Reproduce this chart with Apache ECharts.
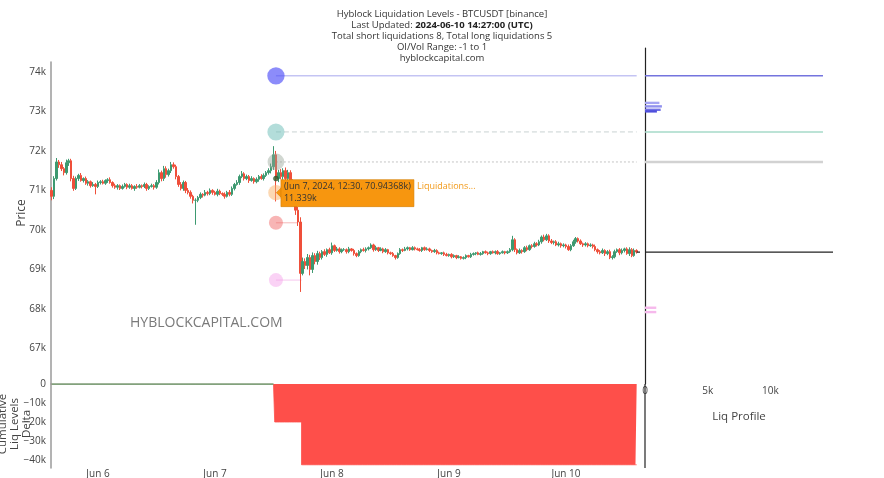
<!DOCTYPE html>
<html><head><meta charset="utf-8">
<script src="https://cdn.jsdelivr.net/npm/echarts@6/dist/echarts.min.js"></script>
<style>html,body{margin:0;padding:0;background:#fff}#c{width:884px;height:478px}</style>
</head><body><div id="c"></div>
<script>
// ---------- DATA (time = hours since 2024-06-06 00:00 UTC, prices in k USDT) ----------
const candleStart = -9.5;      // Jun 5 14:30
const candleStep = 0.5;        // 30-minute candles
const firstOpen = 71.0;
const closes = [
  70.85,71.30,71.72,71.65,71.55,71.45,71.70,71.75,71.30,71.05,
  71.30,71.38,71.25,71.30,71.18,71.22,71.12,71.15,71.10,71.20,
  71.22,71.18,71.25,71.27,71.20,71.12,71.08,71.12,71.05,71.10,
  71.15,71.08,71.12,71.05,71.10,71.08,71.12,71.10,71.15,71.05,
  71.10,71.12,71.08,71.20,71.45,71.30,71.55,71.40,71.50,71.65,
  71.60,71.35,71.15,71.05,71.20,71.00,70.95,70.85,70.75,70.75,
  70.82,70.90,70.88,70.95,70.92,71.00,70.95,70.90,70.98,70.92,
  70.90,70.85,70.95,70.90,71.05,71.15,71.20,71.35,71.42,71.30,
  71.35,71.25,71.30,71.22,71.28,71.35,71.30,71.38,71.45,71.50,
  71.60,71.90,71.30,71.45,71.35,71.50,71.30,71.45,71.20,71.00,
  70.50,70.20,68.90,69.20,69.10,69.30,69.00,69.35,69.20,69.40,
  69.30,69.45,69.38,69.50,69.42,69.60,69.48,69.52,69.45,69.50,
  69.50,69.45,69.52,69.48,69.40,69.35,69.45,69.50,69.48,69.52,
  69.55,69.62,69.50,69.55,69.48,69.52,69.45,69.50,69.42,69.40,
  69.35,69.30,69.40,69.50,69.48,69.52,69.55,69.50,69.55,69.52,
  69.50,69.48,69.55,69.50,69.52,69.48,69.45,69.48,69.42,69.40,
  69.42,69.38,69.35,69.38,69.32,69.35,69.30,69.32,69.28,69.30,
  69.35,69.32,69.38,69.40,69.42,69.38,69.40,69.45,69.42,69.40,
  69.45,69.42,69.45,69.40,69.42,69.45,69.42,69.45,69.50,69.75,
  69.50,69.42,69.48,69.45,69.55,69.50,69.60,69.58,69.65,69.62,
  69.70,69.82,69.75,69.85,69.72,69.68,69.70,69.62,69.65,69.60,
  69.62,69.58,69.50,69.60,69.70,69.78,69.72,69.65,69.62,69.65,
  69.60,69.62,69.58,69.50,69.45,69.42,69.48,69.40,69.45,69.30,
  69.32,69.45,69.50,69.42,69.48,69.52,69.40,69.50,69.35,69.48,
  69.44
];
// wick extension above / below the body, in units of 0.01k (10 USDT)
const wickUp = [
  8,6,9,5,7,4,8,6,5,7, 5,4,6,3,5,4,3,6,4,5, 4,5,3,4,6,3,5,4,3,5, 4,3,5,4,3,6,4,3,5,4,
  3,5,4,6,8,5,7,6,5,7, 6,5,4,6,5,4,6,5,4,5, 4,5,3,6,4,5,3,4,6,4, 3,5,4,6,5,4,6,5,7,4,
  5,4,6,3,5,4,6,5,4,6, 8,6,10,7,9,6,8,7,6,8, 10,8,12,10,8,9,7,8,6,7, 5,4,6,3,5,4,3,5,4,3,
  4,3,5,2,4,3,4,3,5,4, 3,4,3,5,2,4,3,4,2,3, 4,2,3,4,3,5,3,2,4,3, 3,4,2,3,4,3,2,4,3,3,
  2,3,4,2,3,3,2,4,2,3, 3,2,4,3,2,3,4,2,3,3, 2,3,3,4,2,3,2,3,4,5, 4,3,5,3,4,5,3,4,5,4,
  5,4,6,5,4,5,3,4,5,3, 4,3,5,4,5,4,3,4,3,4, 3,4,3,5,3,4,5,3,4,5, 4,5,3,4,5,3,4,6,4,5,
  3
];
const wickDn = [
  9,7,5,8,6,7,5,8,7,6, 4,6,3,5,4,6,5,3,5,4, 5,3,4,6,3,5,4,6,4,3, 3,5,4,3,6,4,3,5,4,6,
  4,3,6,4,5,7,6,8,5,6, 5,7,6,5,6,7,5,6,8,5, 5,4,6,3,5,4,6,3,5,4, 4,6,3,5,4,5,3,6,4,5,
  4,6,3,5,4,6,3,5,4,5, 7,8,6,9,7,8,6,9,8,10, 12,10,8,12,9,10,8,9,7,8, 6,5,4,6,3,5,4,3,5,4,
  3,5,4,3,5,4,3,4,3,5, 4,3,5,3,4,2,4,3,4,3, 3,4,3,3,4,2,4,3,2,4, 2,3,4,3,2,4,3,3,4,2,
  3,4,2,3,4,3,4,2,3,3, 4,2,3,3,4,2,3,3,2,4, 3,2,4,3,3,2,4,3,3,4, 6,4,3,5,3,4,3,5,3,4,
  3,5,4,3,5,4,5,3,4,5, 4,5,3,4,3,5,4,3,5,4, 4,3,5,4,5,4,3,6,4,3, 5,4,3,6,4,5,3,6,4,3,
  4
];
const wickHighs = {2:71.82, 7:71.80, 49:71.72, 91:72.12, 115:69.68, 189:69.85, 203:69.90, 215:69.82};
const wickLows  = {0:70.75, 18:70.90, 59:70.13, 92:70.72, 102:68.43, 103:68.85, 106:68.85, 141:69.25, 168:69.25, 229:69.26};

const liqTime = 36.5;  // Jun 7 12:30
const liqPrices = [73.90, 72.48, 71.72, 70.94368, 70.18, 68.73];
const liqSizes  = [14.2, 13.8, 13.2, 11.339, 9.3, 9.3];
const liqLevelEnds = [110.5, 110.5, 110.5, 41.0, 41.0, 41.8];

const profileLevelPrices = [73.90, 72.48, 71.72];
const profileLevelValues = [14.2, 14.2, 14.2];
const profileBarPrices = [73.215, 73.127, 73.04, 73.0, 68.03, 67.92];
const profileBarValues = [1.15, 1.35, 1.25, 0.95, 0.9, 0.9];

const liqEventTimes  = [36.5, 42.0];
const liqEventDeltas = [-20.0, -22.5];

const dayLabels = ['Jun 6','Jun 7','Jun 8','Jun 9','Jun 10'];
const titleLines = [
  'Hyblock Liquidation Levels - BTCUSDT [binance]',
  'Last Updated: ', '2024-06-10 14:27:00 (UTC)',
  'Total short liquidations 8, Total long liquidations 5',
  'OI/Vol Range: -1 to 1',
  'hyblockcapital.com'
];
const tipText = ['(Jun 7, 2024, 12:30, 70.94368k)', '11.339k', 'Liquidations...'];

// ---------- STYLES / LAYOUT ----------
const FONT = '"Open Sans", "Noto Sans", sans-serif';
const X_MIN = -9.64, X_MAX = 111.18;
const Y_MIN = 66.1, Y_MAX = 74.25;
const PX_PER_K = 322 / (Y_MAX - Y_MIN);
const Y_MAX_PROFILE = Y_MAX + 14 / PX_PER_K;
const UP = '#3d9970', DOWN = '#ef4f3a';
const bubbleColors = ['rgba(80,80,248,0.82)','rgba(110,190,185,0.65)','rgba(150,165,150,0.55)',
                      'rgba(250,180,110,0.65)','rgba(240,100,100,0.6)','rgba(245,160,235,0.6)'];
const levelLineStyles = [
  {stroke:'#a8a8ee', lineWidth:1, lineDash:null},
  {stroke:'#c9d2d2', lineWidth:1, lineDash:[5,3]},
  {stroke:'#c4c4c4', lineWidth:1, lineDash:[2,2]},
  {stroke:'#f7cfa5', lineWidth:1, lineDash:null},
  {stroke:'#f6b8b8', lineWidth:1, lineDash:null},
  {stroke:'#f6c6ee', lineWidth:1, lineDash:null}
];
const profileLineStyles = [
  {stroke:'#7474de', lineWidth:1.5},
  {stroke:'#a6dac8', lineWidth:1.5},
  {stroke:'#d2d2d2', lineWidth:2.5}
];
const profileBarColors = ['#a4a4f2','#9090ee','#7272e6','#4f4fdc','#f6b9ec','#f6b9ec'];
const DELTA_RED = '#fe4f4a';

// ---------- BUILD ----------
const times = closes.map((_, i) => candleStart + i * candleStep);
const candleData = closes.map((c, i) => {
  const o = i === 0 ? firstOpen : closes[i - 1];
  let hi = Math.max(o, c) + wickUp[i] / 100, lo = Math.min(o, c) - wickDn[i] / 100;
  if (wickHighs[i] != null) hi = wickHighs[i];
  if (wickLows[i] != null) lo = wickLows[i];
  return [times[i], o, c, lo, hi];
});
const lastPrice = closes[closes.length - 1];
const lastTime = times[times.length - 1];
const cumDelta = times.map(t => {
  let s = 0;
  liqEventTimes.forEach((et, k) => { if (t >= et) s += liqEventDeltas[k]; });
  return s;
});

const isInt = v => Math.abs(v - Math.round(v)) < 1e-6;
const axisLabelStyle = {fontFamily: FONT, fontSize: 10, color: '#444'};

const chart = echarts.init(document.getElementById('c'), null, {renderer: 'canvas'});

const option = {
  animation: false,
  backgroundColor: '#fff',
  title: {
    left: 'center', top: 4,
    text: titleLines[0] + '\n' + titleLines[1] + '{b|' + titleLines[2] + '}\n' + titleLines[3] + '\n' + titleLines[4] + '\n' + titleLines[5],
    textStyle: {fontFamily: FONT, fontSize: 9.5, fontWeight: 'normal', color: '#333', lineHeight: 11,
      rich: {b: {fontFamily: FONT, fontSize: 9.5, fontWeight: 'bold', color: '#222', lineHeight: 11}}}
  },
  grid: [
    {left: 51, top: 62, width: 589, height: 322, outerBoundsMode: 'none', containLabel: false},
    {left: 51, top: 384, width: 589, height: 84, outerBoundsMode: 'none', containLabel: false},
    {left: 645, top: 48, width: 188, height: 336, outerBoundsMode: 'none', containLabel: false}
  ],
  xAxis: [
    {gridIndex: 0, type: 'value', min: X_MIN, max: X_MAX, show: false, axisLine: {onZero: false}},
    {gridIndex: 1, type: 'value', min: X_MIN, max: X_MAX, minInterval: 24, maxInterval: 24,
      axisLine: {show: false, onZero: false}, axisTick: {show: false}, splitLine: {show: false},
      axisLabel: Object.assign({margin: 1, formatter: v => (isInt(v / 24) && v >= 0 && v / 24 < dayLabels.length) ? dayLabels[Math.round(v / 24)] : ''}, axisLabelStyle)},
    {gridIndex: 2, type: 'value', min: 0, max: 15, minInterval: 5, maxInterval: 5,
      axisLine: {show: false, onZero: false}, axisTick: {show: false}, splitLine: {show: false},
      name: 'Liq Profile', nameLocation: 'middle', nameGap: 27,
      nameTextStyle: {fontFamily: FONT, fontSize: 11.5, color: '#444'},
      axisLabel: Object.assign({margin: 2, formatter: v => v === 0 ? '0' : (v < 15 && isInt(v / 5) ? v + 'k' : '')}, axisLabelStyle)}
  ],
  yAxis: [
    {gridIndex: 0, type: 'value', min: Y_MIN, max: Y_MAX, minInterval: 1, maxInterval: 1,
      axisLine: {show: true, onZero: false, lineStyle: {color: '#9a9a9a', width: 1.5}}, axisTick: {show: false}, splitLine: {show: false},
      axisLabel: Object.assign({margin: 5, formatter: v => isInt(v) ? Math.round(v) + 'k' : ''}, axisLabelStyle)},
    {gridIndex: 1, type: 'value', min: -44.2, max: 0, splitNumber: 4,
      axisLine: {show: true, onZero: false, lineStyle: {color: '#9a9a9a', width: 1.5}}, axisTick: {show: false}, splitLine: {show: false},
      axisLabel: Object.assign({margin: 5, formatter: v => isInt(v / 10) ? (Math.round(v) === 0 ? '0' : '\u2212' + Math.abs(Math.round(v)) + 'k') : ''}, axisLabelStyle)},
    {gridIndex: 2, type: 'value', min: Y_MIN, max: Y_MAX_PROFILE,
      axisLine: {show: true, onZero: false, lineStyle: {color: '#222', width: 1.2}}, axisTick: {show: false}, axisLabel: {show: false}, splitLine: {show: false}}
  ],
  series: [
    {
      type: 'custom', xAxisIndex: 0, yAxisIndex: 0, z: 1,
      data: liqPrices.map((p, k) => [liqTime, liqLevelEnds[k], p, k]),
      encode: {x: [0, 1], y: 2},
      renderItem: (params, api) => {
        const k = api.value(3);
        const s = api.coord([api.value(0), api.value(2)]);
        const e = api.coord([api.value(1), api.value(2)]);
        return {type: 'line', shape: {x1: s[0], y1: s[1], x2: e[0], y2: e[1]}, style: Object.assign({fill: null}, levelLineStyles[k])};
      }
    },
    {
      type: 'candlestick', xAxisIndex: 0, yAxisIndex: 0, z: 2,
      data: candleData, encode: {x: 0, y: [1, 2, 3, 4]},
      barWidth: 2,
      itemStyle: {color: UP, color0: DOWN, borderColor: UP, borderColor0: DOWN, borderWidth: 1}
    },
    {
      type: 'scatter', xAxisIndex: 0, yAxisIndex: 0, z: 3,
      data: liqPrices.map((p, k) => ({value: [liqTime, p, liqSizes[k]], itemStyle: {color: bubbleColors[k]}})),
      symbolSize: v => 4.6 * Math.sqrt(v[2])
    },
    {
      type: 'scatter', xAxisIndex: 0, yAxisIndex: 0, z: 4,
      data: [[liqTime, closes[times.indexOf(liqTime)]]],
      symbolSize: 5, itemStyle: {color: '#2f5f30', borderColor: '#1d3d1d', borderWidth: 0.5}
    },
    {
      type: 'line', xAxisIndex: 0, yAxisIndex: 0, z: 3, symbol: 'none',
      data: [[lastTime, lastPrice], [X_MAX, lastPrice]],
      lineStyle: {color: '#222', width: 1.2}
    },
    {
      type: 'line', xAxisIndex: 1, yAxisIndex: 1, symbol: 'none', step: 'middle', z: 2,
      data: times.map((t, i) => [t, cumDelta[i]]),
      lineStyle: {color: DELTA_RED, width: 0.8},
      areaStyle: {color: DELTA_RED, opacity: 1}
    },
    {
      type: 'line', xAxisIndex: 1, yAxisIndex: 1, symbol: 'none', z: 3,
      data: times.map((t, i) => cumDelta[i] < 0 ? [t, null] : [t, cumDelta[i]]),
      connectNulls: false,
      lineStyle: {color: '#5a9a6a', width: 1.5}
    },
    {
      type: 'custom', xAxisIndex: 2, yAxisIndex: 2,
      data: profileLevelPrices.map((p, k) => [profileLevelValues[k], p, k]),
      encode: {x: 0, y: 1},
      renderItem: (params, api) => {
        const k = api.value(2);
        const s = api.coord([0, api.value(1)]);
        const e = api.coord([api.value(0), api.value(1)]);
        return {type: 'line', shape: {x1: s[0], y1: s[1], x2: e[0], y2: e[1]}, style: Object.assign({fill: null}, profileLineStyles[k])};
      }
    },
    {
      type: 'custom', xAxisIndex: 2, yAxisIndex: 2,
      data: profileBarPrices.map((p, k) => [profileBarValues[k], p, k]),
      encode: {x: 0, y: 1},
      renderItem: (params, api) => {
        const k = api.value(2);
        const s = api.coord([0, api.value(1)]);
        const e = api.coord([api.value(0), api.value(1)]);
        return {type: 'rect', shape: {x: s[0], y: s[1] - 1.2, width: e[0] - s[0], height: 2.4}, style: {fill: profileBarColors[k]}};
      }
    },
    {
      type: 'line', xAxisIndex: 2, yAxisIndex: 2, symbol: 'none', z: 3,
      data: [[0, lastPrice], [15, lastPrice]],
      lineStyle: {color: '#222', width: 1.2}
    }
  ]
};
chart.setOption(option);

// annotations (tooltip box, watermark, axis titles)
const p = chart.convertToPixel({xAxisIndex: 0, yAxisIndex: 0}, [liqTime, liqPrices[3]]);
const bx = p[0] + 5, by = p[1] - 13, bw = 133, bh = 27;
chart.setOption({
  graphic: [
    {type: 'line', shape: {x1: 645, y1: 384, x2: 645, y2: 468}, style: {stroke: '#222', lineWidth: 1.2}, z: 10},
    {type: 'text', x: 130, y: 323, style: {text: 'HYBLOCKCAPITAL.COM', font: '14px ' + FONT, fill: '#7a7a7a', verticalAlign: 'middle'}, z: 10},
    {type: 'text', x: 22, y: 213, rotation: Math.PI / 2, style: {text: 'Price', font: '12px ' + FONT, fill: '#444', align: 'center', verticalAlign: 'middle'}, z: 10},
    {type: 'text', x: 15, y: 424, rotation: Math.PI / 2, style: {text: 'Cumulative\nLiq Levels\nDelta', font: '11.5px ' + FONT, lineHeight: 12, fill: '#444', align: 'center', verticalAlign: 'middle'}, z: 10},
    {type: 'polygon', shape: {points: [[p[0] + 0.5, p[1]], [bx + 0.5, p[1] - 5], [bx + 0.5, p[1] + 5]]}, style: {fill: '#f7960f', stroke: '#d47e00', lineWidth: 0.6}, z: 20},
    {type: 'rect', shape: {x: bx, y: by, width: bw, height: bh}, style: {fill: '#f7960f', stroke: '#d47e00', lineWidth: 0.6}, z: 20},
    {type: 'text', x: bx + 3, y: by + 7, style: {text: tipText[0], font: '9px ' + FONT, fill: '#333', verticalAlign: 'middle'}, z: 21},
    {type: 'text', x: bx + 3, y: by + 19, style: {text: tipText[1], font: '9px ' + FONT, fill: '#333', verticalAlign: 'middle'}, z: 21},
    {type: 'text', x: bx + bw + 3, y: by + 7, style: {text: tipText[2], font: '9px ' + FONT, fill: '#f29a1a', verticalAlign: 'middle'}, z: 21}
  ]
});
</script></body></html>
